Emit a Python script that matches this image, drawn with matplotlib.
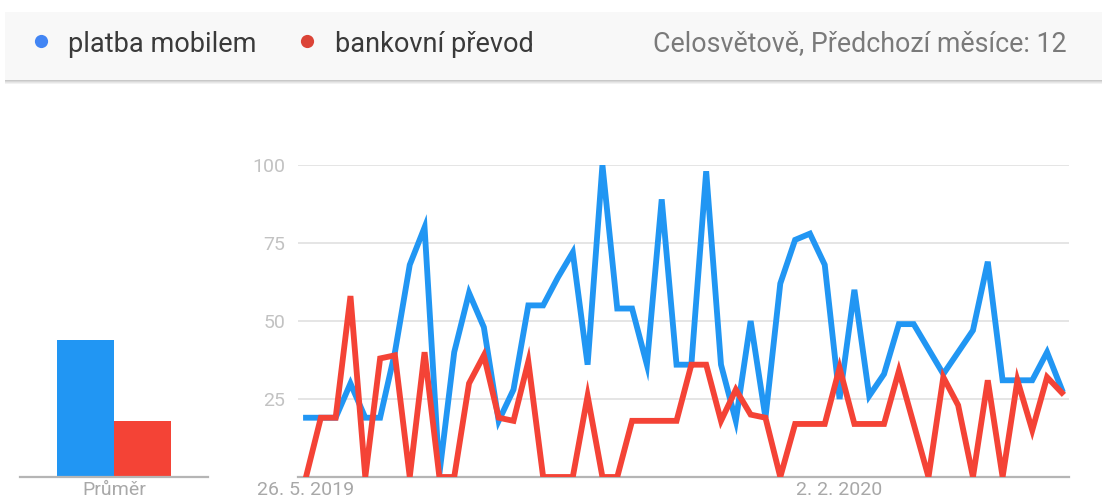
import numpy as np
import pandas as pd
import matplotlib
matplotlib.use("Agg")
import matplotlib.pyplot as plt
from matplotlib.patches import Rectangle
from matplotlib.lines import Line2D

plt.rcParams['font.family'] = ['Roboto', 'DejaVu Sans']

# weekly Google Trends values, 26. 5. 2019 .. 17. 5. 2020
dates = pd.date_range("2019-05-26", periods=52, freq="7D")
mobilem = [19, 19, 19, 30, 19, 19, 40, 68, 80, 1, 40, 59, 48, 18, 28, 55,
           55, 64, 72, 36, 100, 54, 54, 36, 89, 36, 36, 98, 36, 18, 50, 19,
           62, 76, 78, 68, 25, 60, 26, 33, 49, 49, 41, 33, 40, 47, 69, 31,
           31, 31, 40, 28]
prevod = [0, 19, 19, 58, 0, 38, 39, 0, 40, 0, 0, 30, 39, 19, 18, 37,
          0, 0, 0, 26, 0, 0, 18, 18, 18, 18, 36, 36, 18, 28, 20, 19,
          0, 17, 17, 17, 35, 17, 17, 17, 34, 17, 0, 32, 23, 0, 31, 0,
          31, 15, 32, 27]
labels = ["platba mobilem", "bankovní převod"]
averages = [44, 18]
tick_dates = ["2019-05-26", "2020-02-02"]
tick_labels = ["26. 5. 2019", "2. 2. 2020"]
yticks = [25, 50, 75, 100]

blue, red = "#2196F3", "#F44336"
W, H = 1102, 504

fig = plt.figure(figsize=(W / 100, H / 100), dpi=100)

def px(x0, y0, w, h):
    # pixel box (top-left origin) -> figure fraction
    return [x0 / W, (H - y0 - h) / H, w / W, h / H]

# header bar with shadow
for k, c in enumerate(["#c8c8c8", "#d8d8d8", "#e6e6e6", "#f2f2f2"]):
    fig.patches.append(Rectangle((5 / W, (H - 81 - k) / H), 1, 1 / H,
                                 transform=fig.transFigure, color=c, lw=0))
fig.patches.append(Rectangle((5 / W, (H - 80) / H), 1, 68 / H,
                             transform=fig.transFigure, color="#f8f8f8", lw=0))

ty = 1 - 41 / H
for xd, xt, col, lab in [(41, 68, "#4285F4", labels[0]), (307, 335, "#DB4437", labels[1])]:
    fig.add_artist(Line2D([xd / W], [ty], marker="o", ms=9.5, color=col,
                          mec="none", transform=fig.transFigure))
    fig.text(xt / W, ty, lab, fontsize=19.5, color="#3a3a3a", va="center_baseline")
fig.text(1067 / W, ty, "Celosvětově, Předchozí měsíce: 12", fontsize=19.3,
         color="#7a7a7a", va="center_baseline", ha="right")

# main line chart
ax = fig.add_axes(px(298, 165, 771, 312))
ax.plot(dates, mobilem, color=blue, lw=4.2, solid_joinstyle="miter", zorder=3)
ax.plot(dates, prevod, color=red, lw=4.2, solid_joinstyle="miter", zorder=4)
step = pd.Timedelta(days=7)
ax.set_xlim(dates[0] - 0.54 * step, dates[-1] + 0.48 * step)
ax.set_ylim(0, 100)
ax.set_yticks(yticks)
ax.set_xticks(pd.to_datetime(tick_dates))
ax.set_xticklabels(tick_labels)
ax.grid(axis="y", color="#e3e3e3", lw=1.3)
ax.tick_params(axis="y", length=0, pad=9, labelsize=14, labelcolor="#c2c2c2")
ax.tick_params(axis="x", length=0, pad=3, labelsize=14, labelcolor="#a8a8a8")
for s in ["top", "right", "left"]:
    ax.spines[s].set_visible(False)
ax.spines["bottom"].set_color("#b5b5b5")
ax.spines["bottom"].set_linewidth(1.6)

# average bars
bx = fig.add_axes(px(20, 165, 188, 312))
bx.bar([-0.5, 0.5], averages, width=1, color=[blue, red])
bx.set_xlim(-1.65, 1.65)
bx.set_ylim(0, 100)
bx.set_xticks([0])
bx.set_xticklabels(["Průměr"])
bx.set_yticks([])
bx.tick_params(axis="x", length=0, pad=3, labelsize=14, labelcolor="#a8a8a8")
for s in ["top", "right", "left"]:
    bx.spines[s].set_visible(False)
bx.spines["bottom"].set_color("#b5b5b5")
bx.spines["bottom"].set_linewidth(1.6)

fig.savefig("out.png", dpi=100)
